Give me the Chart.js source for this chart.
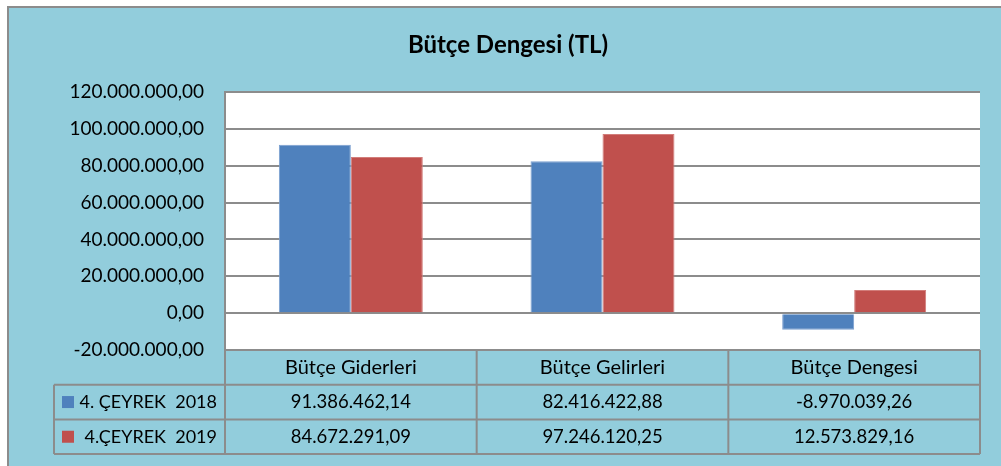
<!DOCTYPE html>
<html>
<head>
<meta charset="utf-8">
<script src="https://cdn.jsdelivr.net/npm/chart.js@4/dist/chart.umd.min.js"></script>
<style>
  html, body { margin: 0; padding: 0; background: #fff; }
  #wrap { width: 1001px; height: 466px; }
</style>
</head>
<body>
<div id="wrap"><canvas id="budgetChart" width="1001" height="466"></canvas></div>
<script>
const categories = ['Bütçe Giderleri', 'Bütçe Gelirleri', 'Bütçe Dengesi'];
const seriesNames = ['4. ÇEYREK  2018', '4.ÇEYREK  2019'];
const values2018 = [91386462.14, 82416422.88, -8970039.26];
const values2019 = [84672291.09, 97246120.25, 12573829.16];
const yMin = -20000000;
const yMax = 120000000;
const yStep = 20000000;

const FONT = 'Lato';
const BG = '#92CDDC';
const LINE = '#8c8c8c';
const colors = ['#4F81BD', '#C0504D'];

// 91386462.14 -> "91.386.462,14"
const trNumber = (v) => {
    const neg = v < 0;
    let [i, d] = Math.abs(v).toFixed(2).split('.');
    i = i.replace(/\B(?=(\d{3})+(?!\d))/g, '.');
    return (neg ? '-' : '') + i + ',' + d;
};

const frame = {
    id: 'frame',
    beforeDraw(chart) {
        const ctx = chart.ctx;
        const a = chart.chartArea;
        ctx.save();
        ctx.fillStyle = '#fff';
        ctx.fillRect(0, 0, chart.width, chart.height);
        ctx.fillStyle = BG;
        ctx.fillRect(7, 6, chart.width, chart.height);
        ctx.strokeStyle = LINE;
        ctx.lineWidth = 2;
        ctx.beginPath();
        ctx.moveTo(8, chart.height);
        ctx.lineTo(8, 7);
        ctx.lineTo(chart.width, 7);
        ctx.stroke();
        // plot area
        ctx.fillStyle = '#fff';
        ctx.fillRect(a.left, a.top, a.right - a.left, a.bottom - a.top);
        ctx.restore();
    }
};

// data table under the plot, columns follow the x scale
const dataTable = {
    id: 'dataTable',
    afterDraw(chart) {
        const ctx = chart.ctx;
        const a = chart.chartArea;
        const xs = chart.scales.x;
        const colW = (a.right - a.left) / categories.length;
        const rowH = 34.7;
        const legendLeft = 54;
        const top = a.bottom;
        ctx.save();
        ctx.strokeStyle = LINE;
        ctx.lineWidth = 2;
        ctx.beginPath();
        // horizontal lines
        ctx.moveTo(a.left, top); ctx.lineTo(a.right, top);
        for (let r = 1; r <= seriesNames.length + 1; r++) {
            const y = top + r * rowH;
            ctx.moveTo(legendLeft, y); ctx.lineTo(a.right, y);
        }
        const bottom = top + (seriesNames.length + 1) * rowH;
        // vertical lines
        ctx.moveTo(legendLeft, top + rowH); ctx.lineTo(legendLeft, bottom);
        for (let c = 0; c <= categories.length; c++) {
            const x = a.left + c * colW;
            ctx.moveTo(x, top); ctx.lineTo(x, bottom);
        }
        ctx.stroke();

        ctx.fillStyle = '#000';
        ctx.font = '20px ' + FONT;
        ctx.textBaseline = 'middle';
        ctx.textAlign = 'center';
        categories.forEach((cat, i) => {
            ctx.fillText(cat, xs.getPixelForValue(i), top + rowH / 2);
        });
        const rows = [values2018, values2019];
        rows.forEach((vals, r) => {
            const y = top + (r + 1.5) * rowH;
            ctx.textAlign = 'center';
            ctx.fillStyle = '#000';
            ctx.font = '18.5px ' + FONT;
            vals.forEach((v, i) => {
                ctx.fillText(trNumber(v), xs.getPixelForValue(i), y);
            });
            // legend key + name
            ctx.fillStyle = colors[r];
            ctx.fillRect(62, y - 6, 12, 12);
            ctx.fillStyle = '#000';
            ctx.font = '18px ' + FONT;
            ctx.textAlign = 'right';
            ctx.fillText(seriesNames[r], a.left - 8, y);
        });
        ctx.restore();
    }
};

window.addEventListener('load', () => {
    const ctx = document.getElementById('budgetChart');
    new Chart(ctx, {
        type: 'bar',
        data: {
            labels: categories,
            datasets: [
                { label: seriesNames[0], data: values2018, backgroundColor: colors[0], borderColor: '#7a9fcf', borderWidth: 1 },
                { label: seriesNames[1], data: values2019, backgroundColor: colors[1], borderColor: '#d27d7a', borderWidth: 1 }
            ]
        },
        options: {
            responsive: false,
            animation: false,
            layout: { padding: { top: 6, left: 36, right: 21, bottom: 116 } },
            datasets: { bar: { categoryPercentage: 0.572, barPercentage: 1.0 } },
            plugins: {
                legend: { display: false },
                tooltip: { enabled: false },
                title: {
                    display: true,
                    text: 'Bütçe Dengesi (TL)',
                    color: '#000',
                    font: { family: FONT, size: 24, weight: 'bold', lineHeight: 1.2 },
                    padding: { top: 24.6, bottom: 32.6 }
                }
            },
            scales: {
                x: { display: false },
                y: {
                    min: yMin,
                    max: yMax,
                    afterFit: (s) => { s.width = 189; },
                    ticks: {
                        stepSize: yStep,
                        padding: 21,
                        color: '#000',
                        font: { family: FONT, size: 19 },
                        callback: (v) => trNumber(v)
                    },
                    grid: { color: LINE, lineWidth: 2, drawTicks: false },
                    border: { display: true, color: LINE, width: 2 }
                }
            }
        },
        plugins: [frame, dataTable]
    });
});
</script>
</body>
</html>
